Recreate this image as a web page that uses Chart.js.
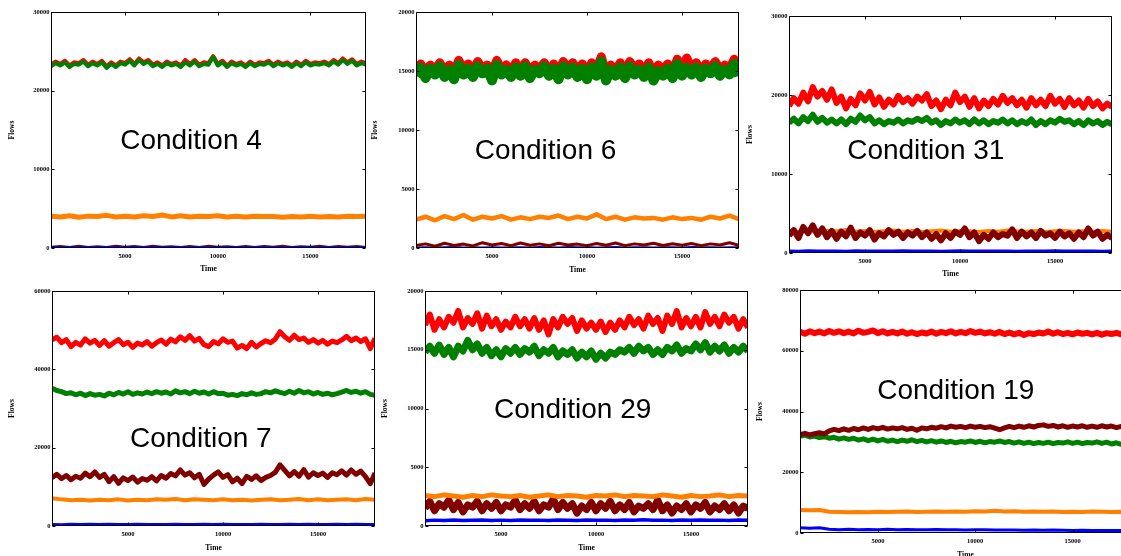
<!DOCTYPE html>
<html>
<head>
<meta charset="utf-8">
<script src="https://cdn.jsdelivr.net/npm/chart.js@4.4.1/dist/chart.umd.min.js"></script>
<style>
  html, body { margin: 0; padding: 0; background: #fff; width: 1121px; height: 556px; overflow: hidden; position: relative; }
  canvas { position: absolute; }
  .cond { position: absolute; font: 28px "Liberation Sans", Arial, sans-serif; line-height: 1; white-space: nowrap;
          transform: translate(-50%, -50%); color: #000; }
</style>
</head>
<body>
<script>
// sample times
const timeFine = [
  1000, 1250, 1500, 1750, 2000, 2250, 2500, 2750, 3000, 3250,
  3500, 3750, 4000, 4250, 4500, 4750, 5000, 5250, 5500, 5750,
  6000, 6250, 6500, 6750, 7000, 7250, 7500, 7750, 8000, 8250,
  8500, 8750, 9000, 9250, 9500, 9750, 10000, 10250, 10500, 10750,
  11000, 11250, 11500, 11750, 12000, 12250, 12500, 12750, 13000, 13250,
  13500, 13750, 14000, 14250, 14500, 14750, 15000, 15250, 15500, 15750,
  16000, 16250, 16500, 16750, 17000, 17250, 17500, 17750, 18000
];
const timeCoarse = [
  1000, 1500, 2000, 2500, 3000, 3500, 4000, 4500, 5000, 5500,
  6000, 6500, 7000, 7500, 8000, 8500, 9000, 9500, 10000, 10500,
  11000, 11500, 12000, 12500, 13000, 13500, 14000, 14500, 15000, 15500,
  16000, 16500, 17000, 17500, 18000
];

// tick labels
const timeTicks = [5000, 10000, 15000];
const flowTicks30k = [0, 10000, 20000, 30000];
const flowTicks20k = [0, 5000, 10000, 15000, 20000];
const flowTicks60k = [0, 20000, 40000, 60000];
const flowTicks80k = [0, 20000, 40000, 60000, 80000];

// Condition 4
const c4Green = [
  23100, 23500, 23200, 23600, 23000, 23400, 23300, 23700, 23100, 23500,
  23200, 23600, 22900, 23400, 23000, 23500, 23300, 23800, 23200, 23900,
  23400, 23700, 23100, 23400, 23000, 23500, 23200, 23400, 23000, 23600,
  23200, 23700, 23100, 23400, 23300, 24300, 23200, 23600, 23000, 23500,
  23200, 23400, 23000, 23500, 23100, 23400, 23300, 23600, 23100, 23500,
  23200, 23400, 23000, 23500, 23100, 23600, 23200, 23400, 23300, 23500,
  23200, 23700, 23300, 23900, 23400, 23800, 23200, 23500, 23300
];
const c4Red = [
  23300, 23700, 23400, 23800, 23200, 23600, 23500, 23900, 23300, 23700,
  23400, 23800, 23100, 23600, 23200, 23700, 23500, 24000, 23400, 24100,
  23600, 23900, 23300, 23600, 23200, 23700, 23400, 23600, 23200, 23900,
  23400, 23900, 23300, 23600, 23500, 24400, 23400, 23800, 23200, 23700,
  23400, 23600, 23200, 23700, 23300, 23600, 23500, 23800, 23300, 23700,
  23400, 23600, 23200, 23700, 23300, 23800, 23400, 23600, 23500, 23700,
  23400, 23900, 23500, 24100, 23600, 24000, 23400, 23700, 23500
];
const c4Orange = [
  4050, 3950, 4100, 3900, 4050, 4000, 4150, 3950, 4050, 3950,
  4100, 4000, 4200, 3950, 4100, 3950, 4050, 4000, 4100, 3950,
  4050, 3950, 4050, 4000, 4000, 3900, 4000, 3950, 4050, 3950,
  4000, 3950, 4050, 4000, 4050
];
const c4Blue = [
  80, 60, 90, 70, 80, 60, 90, 80, 70, 90,
  60, 80, 70, 90, 80, 60, 80, 70, 90, 60,
  80, 70, 80, 90, 60, 80, 70, 90, 80, 60,
  80, 70, 90, 70, 80
];
const c4Maroon = [
  150, 250, 120, 300, 140, 220, 130, 280, 160, 240,
  120, 300, 150, 230, 140, 260, 130, 290, 150, 220,
  140, 270, 130, 250, 160, 300, 140, 230, 150, 280,
  130, 240, 150, 260, 140
];

// Condition 6
const c6Green = [
  14600, 15300, 14400, 15200, 14700, 15400, 14500, 15100, 14300, 15500,
  14700, 15200, 14500, 15400, 14800, 15200, 14200, 15500, 14700, 15100,
  14500, 15300, 14600, 15400, 14400, 15100, 14800, 15400, 14600, 15200,
  14300, 15400, 14700, 15300, 14500, 15200, 14300, 15300, 14600, 15800,
  14200, 15100, 14600, 15300, 14400, 15400, 14700, 15100, 14500, 15300,
  14200, 15000, 14600, 15200, 14400, 15600, 14600, 15300, 14700, 15300,
  14500, 15200, 14800, 15400, 14600, 15100, 14700, 15600, 14600
];
const c6Red = [
  15000, 15600, 14900, 15500, 15100, 15700, 15000, 15500, 14900, 15900,
  15100, 15600, 15000, 15800, 15200, 15500, 14900, 15900, 15200, 15500,
  15000, 15700, 15100, 15700, 14900, 15500, 15200, 15700, 15000, 15600,
  14900, 15800, 15200, 15700, 15000, 15600, 14900, 15700, 15100, 16200,
  14800, 15500, 15000, 15700, 14900, 15800, 15200, 15600, 15000, 15700,
  14800, 15500, 15100, 15600, 14900, 16000, 15100, 16100, 15200, 15700,
  15000, 15600, 15200, 15800, 15100, 15500, 15200, 16000, 15100
];
const c6Orange = [
  2400, 2650, 2350, 2700, 2450, 2800, 2400, 2650, 2500, 2700,
  2400, 2600, 2450, 2650, 2550, 2750, 2450, 2650, 2500, 2850,
  2450, 2650, 2400, 2600, 2500, 2550, 2400, 2600, 2450, 2550,
  2400, 2650, 2500, 2750, 2450
];
const c6Maroon = [
  200, 350, 150, 400, 220, 330, 180, 450, 250, 380,
  200, 420, 230, 350, 190, 400, 260, 330, 200, 380,
  240, 420, 200, 350, 260, 400, 210, 360, 230, 380,
  200, 350, 250, 450, 220
];
const c6Blue = [
  50, 70, 40, 60, 80, 50, 70, 40, 60, 50,
  70, 60, 40, 80, 60, 50, 90, 60, 70, 50,
  60, 80, 50, 70, 60, 40, 70, 60, 50, 80,
  60, 70, 50, 60, 70
];

// Condition 31
const c31Red = [
  18600, 19600, 18900, 20300, 19200, 21000, 19800, 20500, 19400, 20700,
  19000, 19800, 18300, 19500, 18700, 20200, 19300, 20400, 18800, 19700,
  18500, 19400, 18800, 19900, 19100, 19600, 18900, 19800, 19300, 20100,
  18600, 19300, 18200, 19400, 18700, 20300, 19100, 19800, 18500, 19600,
  18300, 19300, 18600, 19500, 18800, 19900, 19000, 19600, 18700, 19400,
  18400, 19600, 18700, 19400, 18600, 19900, 18900, 19500, 18500, 19600,
  18700, 19300, 18400, 19500, 18600, 19200, 18300, 18900, 18500
];
const c31Green = [
  16500, 17000, 16400, 17200, 16700, 17500, 16600, 17100, 16500, 16900,
  16400, 16900, 16300, 17000, 16600, 17400, 16800, 17200, 16400, 16800,
  16300, 16700, 16500, 16900, 16400, 16800, 16600, 17000, 16700, 17100,
  16500, 16800, 16200, 16700, 16400, 16900, 16500, 16800, 16300, 16900,
  16400, 16800, 16300, 16700, 16500, 16900, 16400, 16800, 16300, 16700,
  16400, 16900, 16200, 16700, 16300, 16800, 16500, 17000, 16600, 16800,
  16300, 16700, 16200, 16800, 16400, 16700, 16200, 16600, 16300
];
const c31Maroon = [
  2200, 2900, 1900, 3300, 2500, 3500, 2300, 3100, 2000, 2800,
  1800, 2700, 2100, 3200, 1900, 2600, 2200, 2900, 1700, 2500,
  2100, 2900, 2300, 2700, 1900, 2600, 2200, 2800, 2000, 2600,
  1800, 2400, 1600, 2500, 1900, 2700, 2300, 3100, 2000, 2600,
  1500, 2300, 1800, 2600, 2000, 2400, 2200, 3000, 1900, 2700,
  2100, 2600, 1900, 2800, 2200, 2500, 1900, 2700, 2100, 2500,
  1800, 2600, 2000, 3100, 2200, 2700, 1800, 2300, 1900
];
const c31Orange = [
  2800, 2700, 2850, 2650, 2800, 2750, 2900, 2700, 2800, 2650,
  2750, 2850, 2700, 2800, 2650, 2750, 2850, 2700, 2800, 2750,
  2650, 2800, 2700, 2850, 2750, 2700, 2800, 2650, 2750, 2800,
  2700, 2750, 2650, 2800, 2700
];
const c31Blue = [
  250, 230, 270, 240, 260, 250, 230, 270, 250, 240,
  260, 250, 270, 240, 250, 260, 230, 250, 270, 240,
  250, 260, 240, 250, 230, 260, 250, 240, 270, 250,
  240, 260, 250, 230, 250
];

// Condition 7
const c7Red = [
  47500, 48200, 46800, 47600, 45800, 46900, 46200, 47800, 46700, 47400,
  46100, 47300, 45900, 46800, 47600, 46300, 46900, 45600, 46700, 46200,
  47100, 45900, 46800, 47500, 46400, 47700, 47000, 48300, 47400, 48600,
  47200, 47900, 46300, 45800, 47100, 46500, 47800, 46900, 47200, 45400,
  46100, 45300, 46900, 45700, 46600, 47300, 46800, 47700, 49600, 48300,
  47400, 48700, 47600, 48000, 46900, 47600, 46700, 47400, 46400, 47200,
  46800, 47500, 48400, 47300, 48000, 47100, 47800, 45300, 47900
];
const c7Green = [
  35200, 34600, 34300, 33800, 34000, 33500, 33900, 33300, 33800, 33400,
  33600, 33200, 33900, 33500, 34100, 33700, 34300, 33600, 34000, 33700,
  34200, 33800, 34300, 33900, 34200, 33700, 34500, 34000, 34300, 33800,
  34400, 33900, 34200, 33700, 34300, 33800, 33900, 33400, 33600, 33300,
  33800, 33500, 34000, 33600, 33800, 34300, 34000, 34500, 34100, 33800,
  34400, 33900, 34600, 34000, 34300, 33700, 34100, 33600, 33900, 33500,
  33800, 34200, 34600, 34100, 34400, 33900, 34300, 33600, 33400
];
const c7Maroon = [
  12300, 13200, 12100, 12900, 11800, 12700, 12200, 13500, 12600, 13800,
  12400, 13200, 11300, 12600, 10900, 12300, 11600, 12500, 11200, 12100,
  11700, 12600, 11500, 12900, 12200, 13400, 12800, 14300, 13000, 13600,
  12300, 13200, 10600, 12000, 13000, 13800, 12400, 13100, 11300, 12200,
  10800, 12700, 11900, 12800, 11600, 12400, 12900, 13700, 15600, 14200,
  12800, 13900, 12700, 14400, 12500, 13600, 12900, 13500, 12400, 13600,
  13100, 14100, 13000, 14300, 13200, 14000, 12600, 10800, 13500
];
const c7Orange = [
  7100, 6800, 6600, 6700, 6500, 6700, 6600, 6800, 6500, 6700,
  6600, 6800, 6700, 6900, 6600, 6800, 6700, 6600, 6800, 6600,
  6700, 6500, 6700, 6800, 6600, 6700, 6900, 6600, 6800, 6600,
  6700, 6800, 6600, 6900, 6700
];
const c7Blue = [
  400, 350, 450, 380, 420, 360, 440, 400, 370, 430,
  390, 410, 360, 440, 400, 380, 420, 370, 450, 390,
  410, 360, 430, 400, 380, 420, 370, 440, 400, 360,
  420, 390, 430, 380, 400
];

// Condition 29
const c29Red = [
  17100, 18000, 16700, 17600, 16900, 17800, 17300, 18300, 16900, 17700,
  17200, 18100, 16800, 17900, 17000, 17600, 16700, 17400, 16900, 17800,
  17000, 17600, 16800, 17700, 16700, 17500, 16300, 17600, 16900, 17800,
  17200, 17700, 16600, 17500, 16800, 17300, 16700, 17400, 16500, 17300,
  16700, 17500, 16900, 17800, 17100, 17600, 16800, 17900, 17200, 17700,
  16600, 17900, 17200, 18300, 16900, 17700, 17000, 17800, 16900, 18200,
  17200, 17800, 17000, 18000, 17300, 17800, 16800, 17600, 16900
];
const c29Green = [
  14800, 15300, 14700, 15400, 14600, 15200, 14400, 15300, 14900, 15800,
  15000, 15500, 14700, 15200, 14500, 15000, 14400, 15100, 14700, 15200,
  14600, 15100, 14800, 15300, 14500, 15000, 14700, 15200, 14400, 14900,
  14600, 15000, 14300, 14800, 14400, 14900, 14200, 14700, 14300, 14800,
  14600, 15000, 14800, 15200, 14700, 15300, 14900, 15200, 14600, 15000,
  14600, 15200, 14900, 15400, 14700, 15100, 14900, 15500, 15000, 15600,
  14800, 15300, 14900, 15400, 14700, 15200, 14800, 15300, 14900
];
const c29Maroon = [
  1500, 2100, 1300, 1900, 1600, 2200, 1400, 2000, 1200, 1800,
  1600, 2100, 1300, 1900, 1500, 2000, 1300, 1800, 1600, 2200,
  1400, 1900, 1500, 2100, 1300, 1800, 1600, 2300, 1400, 2000,
  1500, 1900, 1100, 1700, 1400, 2000, 1300, 1900, 1500, 2100,
  1300, 1800, 1400, 2000, 1200, 1700, 1500, 1900, 1400, 2200,
  1300, 1800, 1100, 1700, 1400, 1900, 1200, 1800, 1500, 2000,
  1200, 1700, 1400, 1900, 1300, 1800, 1100, 1700, 1500
];
const c29Orange = [
  2600, 2500, 2650, 2550, 2450, 2600, 2500, 2650, 2550, 2500,
  2600, 2450, 2550, 2650, 2500, 2600, 2550, 2450, 2600, 2550,
  2650, 2500, 2600, 2550, 2500, 2650, 2550, 2450, 2600, 2500,
  2550, 2650, 2500, 2600, 2550
];
const c29Blue = [
  450, 500, 470, 520, 460, 490, 510, 470, 500, 460,
  520, 480, 500, 470, 510, 490, 460, 520, 480, 500,
  470, 510, 490, 530, 480, 500, 470, 510, 490, 520,
  480, 500, 470, 510, 490
];

// Condition 19
const c19Red = [
  66200, 65600, 66400, 65800, 66300, 65700, 66500, 65900, 66400, 65800,
  66300, 65700, 66600, 65900, 66200, 66700, 65800, 66400, 65700, 66200,
  65700, 66300, 65600, 66100, 65500, 66000, 65700, 66300, 65600, 66200,
  65800, 66400, 65700, 66200, 65800, 66500, 65900, 66300, 65700, 66100,
  65600, 66200, 65500, 66000, 65400, 65900, 65200, 65800, 65500, 66000,
  65700, 66300, 65600, 66100, 65500, 65900, 65400, 66000, 65600, 65900,
  65400, 65900, 65300, 65800, 65500, 65900, 65400, 65800, 65300
];
const c19Maroon = [
  32400, 32800, 32300, 32700, 33000, 32600, 33600, 34100, 33700, 34300,
  33800, 34400, 34000, 34600, 34100, 34700, 34300, 34800, 34200, 34600,
  34300, 34700, 34100, 34500, 33800, 34600, 34300, 34800, 34500, 35000,
  34600, 35200, 34800, 35100, 34700, 35200, 34800, 35100, 34700, 35000,
  34500, 34000, 34600, 35100, 34700, 35200, 34800, 35300, 34900, 35400,
  35600, 35100, 35400, 34900, 35300, 34800, 35200, 34900, 35300, 34800,
  35200, 34800, 35300, 34900, 35200, 34700, 35100, 34800, 35000
];
const c19Green = [
  31800, 32200, 31600, 31900, 31400, 31700, 31200, 31500, 30900, 31300,
  30800, 31200, 30600, 31000, 30400, 30900, 30300, 30800, 30200, 30600,
  30100, 30600, 30200, 30700, 30100, 30500, 30000, 30400, 29900, 30300,
  29800, 30200, 29700, 30100, 29900, 30300, 29800, 30200, 29700, 30100,
  29900, 30300, 29800, 30100, 29600, 30000, 29500, 29900, 29400, 29800,
  29500, 29900, 29400, 29800, 29600, 30000, 29500, 29900, 29400, 29800,
  29600, 30000, 29500, 29900, 29300, 29700, 29200, 29600, 29400
];
const c19Orange = [
  7600, 7500, 7600, 7000, 6900, 6800, 6900, 6800, 7000, 6900,
  7000, 7100, 6900, 7000, 7100, 7000, 7100, 7000, 7200, 7100,
  7300, 7100, 7200, 7000, 7100, 7000, 7100, 6900, 7000, 6900,
  7100, 7000, 6900, 7000, 6900
];
const c19Blue = [
  1700, 1600, 1700, 1200, 1100, 1200, 1100, 1150, 1100, 1200,
  1100, 1150, 1050, 1100, 1150, 1050, 1100, 1000, 1100, 1050,
  1000, 950, 1000, 900, 950, 900, 950, 900, 850, 900,
  850, 800, 850, 800, 800
];

const RED = '#ff0000', GREEN = '#008000', ORANGE = '#ff8000', MAROON = '#800000', BLUE = '#0000ff';

// series listed top-most first: [values, colour, times, line width]
const panels = [
  { label: 'Condition 4', yMax: 30000, yTicks: flowTicks30k, area: [51, 12, 366, 248], flowsX: 12, timeY: 269.5, text: [191, 140],
    series: [[c4Green, GREEN, timeFine, 4], [c4Red, RED, timeFine, 4], [c4Blue, BLUE, timeCoarse, 2.5],
             [c4Maroon, MAROON, timeCoarse, 2], [c4Orange, ORANGE, timeCoarse, 5]] },
  { label: 'Condition 6', yMax: 20000, yTicks: flowTicks20k, area: [416, 12, 739, 248], flowsX: 375, timeY: 270, text: [545.5, 150.3],
    series: [[c6Green, GREEN, timeFine, 10], [c6Red, RED, timeFine, 9], [c6Orange, ORANGE, timeCoarse, 4.5],
             [c6Maroon, MAROON, timeCoarse, 3], [c6Blue, BLUE, timeCoarse, 2]] },
  { label: 'Condition 31', yMax: 30000, yTicks: flowTicks30k, area: [789, 16, 1112, 253], flowsX: 750, timeY: 274, text: [925.8, 150],
    series: [[c31Red, RED, timeFine, 6], [c31Green, GREEN, timeFine, 6], [c31Maroon, MAROON, timeFine, 6],
             [c31Orange, ORANGE, timeCoarse, 4], [c31Blue, BLUE, timeCoarse, 3]] },
  { label: 'Condition 7', yMax: 60000, yTicks: flowTicks60k, area: [52, 291, 375, 526], flowsX: 12, timeY: 548, text: [200.8, 438.3],
    series: [[c7Red, RED, timeFine, 5], [c7Green, GREEN, timeFine, 5], [c7Maroon, MAROON, timeFine, 5],
             [c7Orange, ORANGE, timeCoarse, 4], [c7Blue, BLUE, timeCoarse, 3]] },
  { label: 'Condition 29', yMax: 20000, yTicks: flowTicks20k, area: [425, 291, 748, 526], flowsX: 385, timeY: 548, text: [572.7, 408.8],
    series: [[c29Red, RED, timeFine, 6], [c29Green, GREEN, timeFine, 7], [c29Orange, ORANGE, timeCoarse, 5],
             [c29Maroon, MAROON, timeFine, 7], [c29Blue, BLUE, timeCoarse, 3.5]] },
  { label: 'Condition 19', yMax: 80000, yTicks: flowTicks80k, area: [800, 290, 1131, 533], flowsX: 760, timeY: 555, text: [955.8, 390],
    series: [[c19Red, RED, timeFine, 6], [c19Maroon, MAROON, timeFine, 5], [c19Green, GREEN, timeFine, 5],
             [c19Orange, ORANGE, timeCoarse, 4], [c19Blue, BLUE, timeCoarse, 3]] }
];

const tickFont = { family: 'Liberation Serif', weight: 'bold', size: 6.5 };
const titleFont = { family: 'Liberation Serif', weight: 'bold', size: 7.5 };

// box with inward tick marks on all four sides
const framePlugin = {
  id: 'frame',
  afterDatasetsDraw(chart) {
    const { ctx, chartArea: a, scales: { x, y } } = chart;
    const L = Math.round(a.left) + 0.5, R = Math.round(a.right) - 0.5;
    const T = Math.round(a.top) + 0.5, B = Math.round(a.bottom) - 0.5;
    ctx.save();
    ctx.strokeStyle = '#000';
    ctx.lineWidth = 1;
    ctx.strokeRect(L, T, R - L, B - T);
    ctx.beginPath();
    x.ticks.forEach(t => {
      const px = Math.round(x.getPixelForValue(t.value)) + 0.5;
      ctx.moveTo(px, B); ctx.lineTo(px, B - 3);
      ctx.moveTo(px, T); ctx.lineTo(px, T + 3);
    });
    y.ticks.forEach(t => {
      const py = Math.round(y.getPixelForValue(t.value)) + 0.5;
      ctx.moveTo(L, py); ctx.lineTo(L + 3, py);
      ctx.moveTo(R, py); ctx.lineTo(R - 3, py);
    });
    ctx.stroke();
    ctx.restore();
  }
};

function drawPanel(p) {
  const [l, t, r, b] = p.area;
  const left = Math.round(p.flowsX - 12), top = t - 8, right = r + 6, bottom = Math.round(p.timeY + 6.5);
  const cv = document.createElement('canvas');
  cv.width = right - left; cv.height = bottom - top;
  cv.style.left = left + 'px'; cv.style.top = top + 'px';
  document.body.appendChild(cv);

  const datasets = p.series.map(([vals, color, times, w]) => ({
    data: times.map((tm, i) => ({ x: tm, y: vals[i] })),
    borderColor: color,
    borderWidth: w,
    borderJoinStyle: 'round',
    pointRadius: 0,
    tension: 0,
    fill: false,
    clip: 0
  }));

  new Chart(cv.getContext('2d'), {
    type: 'line',
    data: { datasets },
    options: {
      responsive: false,
      animation: false,
      devicePixelRatio: 1,
      layout: { padding: { top: t - top, right: right - r, left: 0, bottom: 0 } },
      plugins: { legend: { display: false }, tooltip: { enabled: false } },
      scales: {
        x: {
          type: 'linear', min: 1000, max: 18000,
          grid: { display: false, drawTicks: false }, border: { display: false },
          afterBuildTicks: s => { s.ticks = timeTicks.map(v => ({ value: v })); },
          afterFit: s => { s.height = bottom - b; },
          ticks: { padding: 4, maxRotation: 0, autoSkip: false, color: '#000', font: tickFont, callback: v => String(v) },
          title: { display: true, text: 'Time', color: '#000', font: titleFont, padding: { top: 0, bottom: 2 } }
        },
        y: {
          type: 'linear', min: 0, max: p.yMax,
          grid: { display: false, drawTicks: false }, border: { display: false },
          afterBuildTicks: s => { s.ticks = p.yTicks.map(v => ({ value: v })); },
          afterFit: s => { s.width = l - left; },
          ticks: { padding: 1.5, autoSkip: false, color: '#000', font: tickFont, callback: v => String(v) },
          title: { display: true, text: 'Flows', color: '#000', font: titleFont, padding: { top: 7.5, bottom: 0 } }
        }
      }
    },
    plugins: [framePlugin]
  });

  const d = document.createElement('div');
  d.className = 'cond';
  d.textContent = p.label;
  d.style.left = p.text[0] + 'px';
  d.style.top = p.text[1] + 'px';
  document.body.appendChild(d);
}

panels.forEach(drawPanel);
</script>
</body>
</html>
